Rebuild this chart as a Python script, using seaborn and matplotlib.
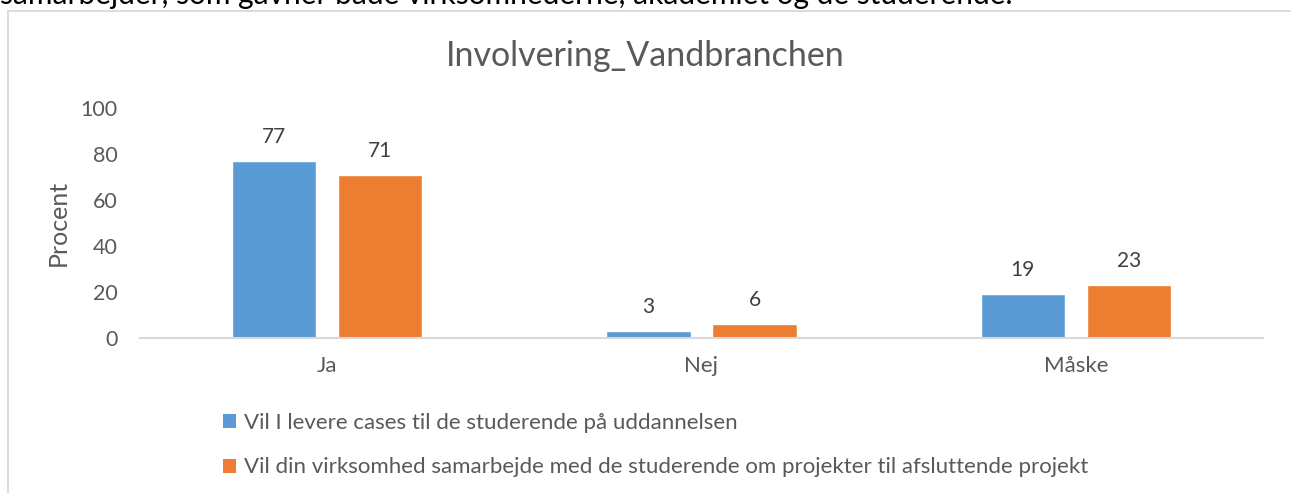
import matplotlib
matplotlib.use("Agg")
import matplotlib.pyplot as plt
import seaborn as sns
import pandas as pd
from matplotlib.patches import Rectangle, Patch

categories = ["Ja", "Nej", "Måske"]
series_names = [
    "Vil I levere cases til de studerende på uddannelsen",
    "Vil din virksomhed samarbejde med de studerende om projekter til afsluttende projekt",
]
values_cases = [77, 3, 19]
values_projekt = [71, 6, 23]
yticks = [0, 20, 40, 60, 80, 100]
title = "Involvering_Vandbranchen"
ylabel = "Procent"
top_text = "samarbejder, som gavner både virksomhederne, akademiet og de studerende."

colors = ["#5B9BD5", "#ED7D31"]
FONT = ["Lato", "DejaVu Sans"]

df = pd.DataFrame({
    "Kategori": categories * 2,
    "Serie": [series_names[0]] * 3 + [series_names[1]] * 3,
    "Procent": values_cases + values_projekt,
})

sns.set_theme(style="white")
plt.rcParams["font.family"] = FONT

W, H = 1291, 493
fig = plt.figure(figsize=(W / 100, H / 100), dpi=100)

# chart frame border
fig.patches.append(Rectangle((8 / W, -0.1), 1.2, (H - 11) / H + 0.1,
                             transform=fig.transFigure, fill=False,
                             edgecolor="#D9D9D9", linewidth=1.3, zorder=0))

# text above the chart (partly cut by the top edge, as in the reference)
fig.text(0.0, 1 - 4 / H, top_text, ha="left", va="baseline",
         fontsize=21.5, color="#000000")

ax = fig.add_axes([140 / W, (H - 338) / H, 1123 / W, 230 / H])
sns.barplot(data=df, x="Kategori", y="Procent", hue="Serie",
            palette=colors, width=0.567, gap=0.206, ax=ax,
            saturation=1, legend=False, errorbar=None)

ax.set_xlim(-0.5, 2.5)
ax.set_ylim(0, 100)
ax.set_yticks(yticks)
ax.set_yticklabels([str(t) for t in yticks])
for s in ["top", "right", "left"]:
    ax.spines[s].set_visible(False)
ax.spines["bottom"].set_color("#D9D9D9")
ax.spines["bottom"].set_linewidth(1.5)
ax.tick_params(axis="both", length=0, labelsize=15.5, labelcolor="#595959")
ax.tick_params(axis="x", labelsize=16)
ax.tick_params(axis="y", pad=16)
ax.tick_params(axis="x", pad=13)
ax.set_xlabel("")
ax.set_ylabel(ylabel, fontsize=18, color="#595959", labelpad=8)
ax.set_facecolor("none")

for cont in ax.containers:
    ax.bar_label(cont, labels=[f"{v:.0f}" for v in cont.datavalues],
                 padding=10, fontsize=15, color="#404040")

fig.text(0.5, 1 - 56 / H, title, ha="center", va="center",
         fontsize=24.5, color="#595959")

handles = [Patch(facecolor=c, edgecolor="none") for c in colors]
fig.legend(handles, series_names, loc="upper left",
           bbox_to_anchor=(223 / W, 1 - 413 / H), frameon=False,
           fontsize=16, labelcolor="#595959", handlelength=0.6,
           handleheight=0.6, handletextpad=0.35, labelspacing=1.1,
           borderaxespad=0, borderpad=0)

fig.savefig("out.png", dpi=100, facecolor="white")
